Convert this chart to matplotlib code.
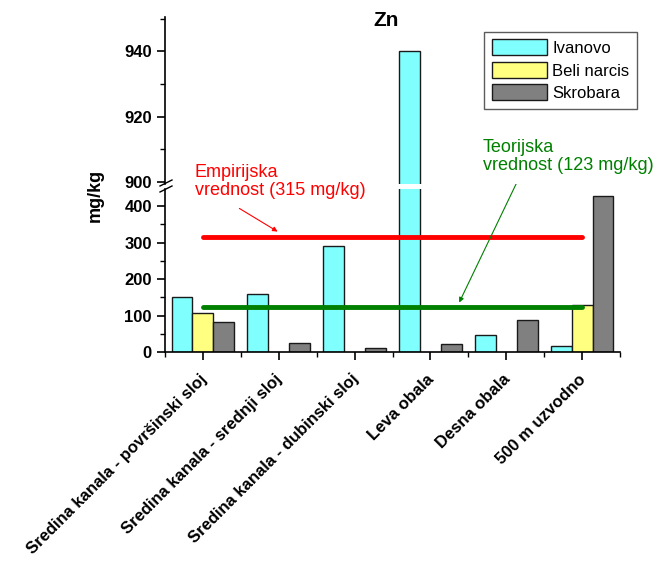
import matplotlib as mpl
import matplotlib.pyplot as plt
import matplotlib.transforms as mtransforms
import numpy as np
from matplotlib.lines import Line2D

mpl.rcParams["font.family"] = ["Liberation Sans", "DejaVu Sans"]

# --------------------------------------------------------------------
# data
# --------------------------------------------------------------------
CATEGORIES = [
    "Sredina kanala - površinski sloj",
    "Sredina kanala - srednji sloj",
    "Sredina kanala - dubinski sloj",
    "Leva obala",
    "Desna obala",
    "500 m uzvodno",
]
SERIES = ["Ivanovo", "Beli narcis", "Skrobara"]
IVANOVO = [150, 160, 290, 940, 46, 16]
BELI_NARCIS = [108, 0, 0, 0, 0, 128]
SKROBARA = [82, 26, 11, 23, 87, 427]
EMPIRIJSKA = 315
TEORIJSKA = 123

COLORS = ["#80FFFF", "#FFFF80", "#808080"]
EDGE = "#1a1a1a"

fig = plt.figure(figsize=(6.56, 5.62), dpi=100)

x0, x1 = 165 / 656, 620 / 656
lo_bot, lo_top = 1 - 352 / 562, 1 - 189 / 562
up_bot, up_top = 1 - 184 / 562, 1 - 17 / 562

ax_lo = fig.add_axes([x0, lo_bot, x1 - x0, lo_top - lo_bot])
ax_up = fig.add_axes([x0, up_bot, x1 - x0, up_top - up_bot], sharex=ax_lo)

x = np.arange(len(CATEGORIES))
w = 0.275
data = [IVANOVO, BELI_NARCIS, SKROBARA]
for ax in (ax_lo, ax_up):
    for i, (vals, col, name) in enumerate(zip(data, COLORS, SERIES)):
        v = np.array(vals, dtype=float)
        v[v == 0] = np.nan
        ax.bar(x + (i - 1) * w, v, w, color=col, edgecolor=EDGE,
               linewidth=1.0, label=name, zorder=2)

ax_lo.set_ylim(0, 447)
ax_up.set_ylim(899.4, 950.5)
ax_lo.set_xlim(-0.5, 5.5)

# reference lines
ax_lo.plot([0, 5], [EMPIRIJSKA, EMPIRIJSKA], color="#ff0000", lw=3.5,
           solid_capstyle="round", zorder=3)
ax_lo.plot([0, 5], [TEORIJSKA, TEORIJSKA], color="#008000", lw=3.5,
           solid_capstyle="round", zorder=3)

# spines / ticks
for ax in (ax_lo, ax_up):
    ax.spines["top"].set_visible(False)
    ax.spines["right"].set_visible(False)
    ax.spines["left"].set_linewidth(1.2)
    ax.tick_params(axis="y", which="major", direction="out", length=6,
                   width=1.2, labelsize=12)
    ax.tick_params(axis="y", which="minor", direction="out", length=3.5,
                   width=1.0)

ax_up.spines["bottom"].set_visible(False)
ax_up.tick_params(axis="x", which="both", bottom=False, labelbottom=False)
ax_up.set_yticks([900, 920, 940])
ax_up.set_yticks([910, 930, 950], minor=True)
ax_up.set_yticklabels(["900", "920", "940"], fontweight="bold", fontsize=12)

ax_lo.spines["bottom"].set_linewidth(1.2)
ax_lo.set_yticks([0, 100, 200, 300, 400])
ax_lo.set_yticks([50, 150, 250, 350], minor=True)
ax_lo.set_yticklabels(["0", "100", "200", "300", "400"], fontweight="bold",
                      fontsize=12)
ax_lo.set_xticks(x)
ax_lo.set_xticks(np.arange(-0.5, 6.0, 1.0), minor=True)
ax_lo.tick_params(axis="x", which="major", direction="out", length=6,
                  width=1.2, pad=6)
ax_lo.tick_params(axis="x", which="minor", direction="out", length=3.5,
                  width=1.0)
ax_lo.set_xticklabels(CATEGORIES, rotation=45, ha="right",
                      rotation_mode="anchor", fontweight="bold", fontsize=12)
shift = mtransforms.ScaledTranslation(-3 / 72, -2 / 72, fig.dpi_scale_trans)
for lab in ax_lo.get_xticklabels():
    lab.set_transform(lab.get_transform() + shift)

# axis break marks
for yy in (183, 189):
    fig.add_artist(Line2D([160 / 656, 172 / 656],
                          [1 - (yy + 3) / 562, 1 - (yy - 3) / 562],
                          color="black", lw=1.0))

fig.text(386 / 656, 1 - 21 / 562, "Zn", fontweight="bold", fontsize=15,
         ha="center", va="center")
fig.text(95 / 656, 1 - 195 / 562, "mg/kg", rotation=90, fontweight="bold",
         fontsize=13, ha="center", va="center")

ax_up.legend(loc="upper right", bbox_to_anchor=(637 / 656, 1 - 32 / 562),
             bbox_transform=fig.transFigure, frameon=True, fancybox=False,
             edgecolor="#333333", fontsize=12, handlelength=3.3,
             handleheight=1.1, borderaxespad=0, labelspacing=0.35,
             handletextpad=0.35, borderpad=0.45)

# annotations
fig.text(195 / 656, 1 - 164 / 562, "Empirijska\nvrednost (315 mg/kg)",
         color="#ff0000", fontsize=13, ha="left", va="top",
         linespacing=1.1)
fig.text(483 / 656, 1 - 139 / 562, "Teorijska\nvrednost (123 mg/kg)",
         color="#008000", fontsize=13, ha="left", va="top",
         linespacing=1.1)
ax_lo.annotate("", xy=(280 / 656, 1 - 233 / 562), xycoords="figure fraction",
               xytext=(237 / 656, 1 - 207 / 562), textcoords="figure fraction",
               arrowprops=dict(arrowstyle="-|>", color="#ff0000", lw=0.8,
                               mutation_scale=7))
ax_lo.annotate("", xy=(458 / 656, 1 - 305 / 562), xycoords="figure fraction",
               xytext=(518 / 656, 1 - 180 / 562), textcoords="figure fraction",
               arrowprops=dict(arrowstyle="-|>", color="#008000", lw=0.8,
                               mutation_scale=7))

fig.savefig("out.png", dpi=100, facecolor="white")
